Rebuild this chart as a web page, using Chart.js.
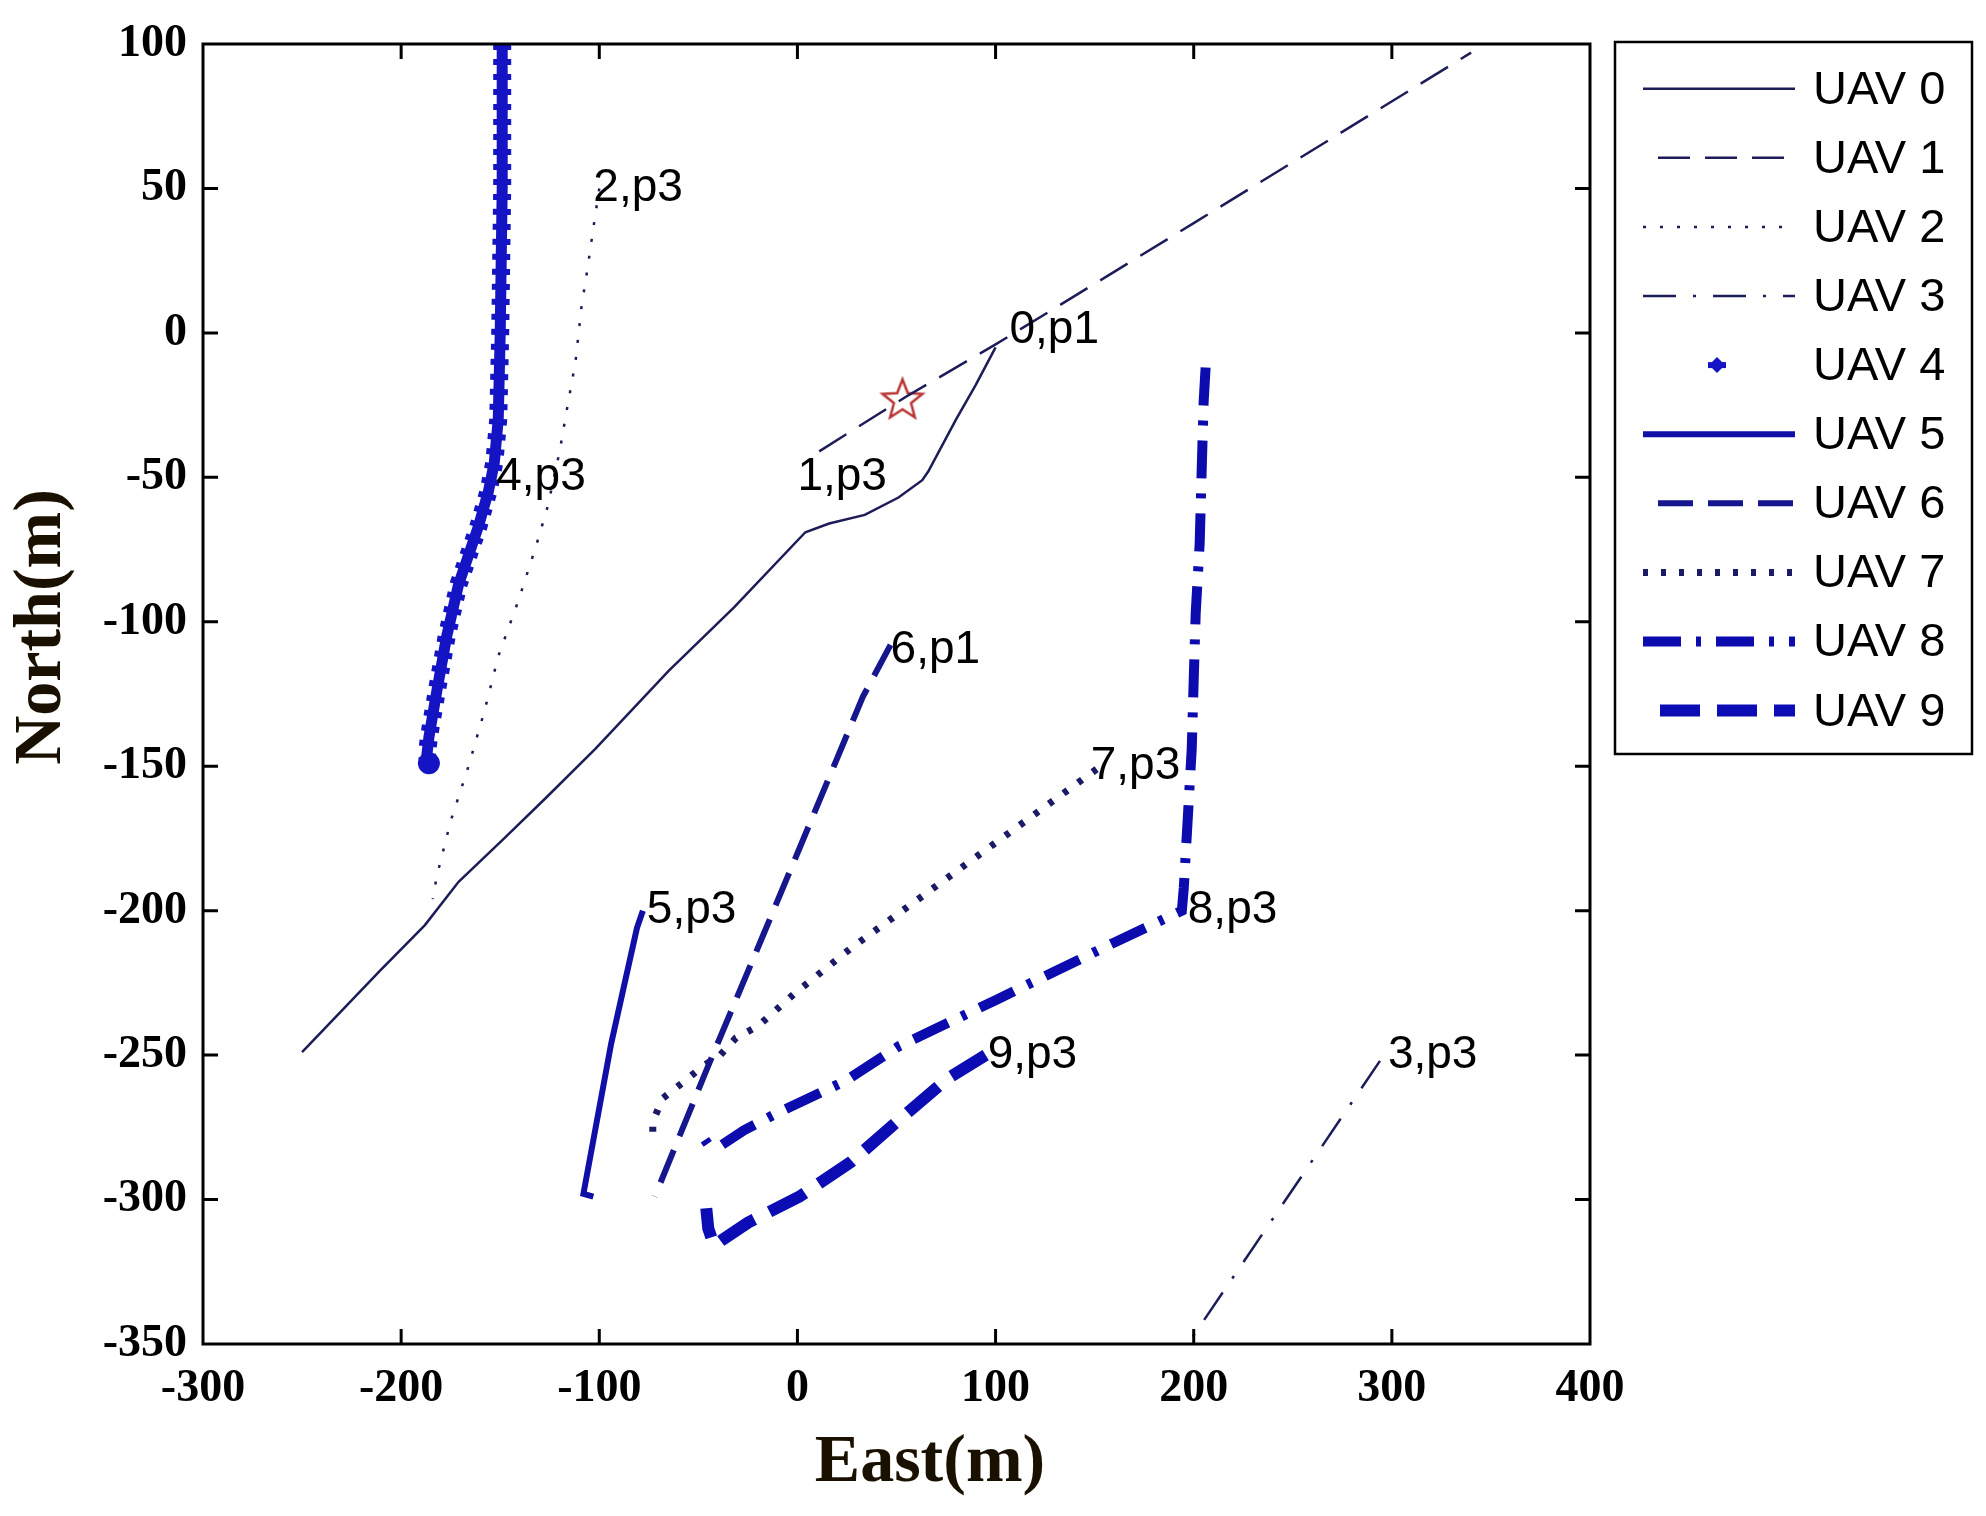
<!DOCTYPE html>
<html>
<head>
<meta charset="utf-8">
<script src="https://cdn.jsdelivr.net/npm/chart.js@4.4.1/dist/chart.umd.min.js"></script>
<style>
html,body{margin:0;padding:0;background:#ffffff;}
canvas{display:block;}
</style>
</head>
<body>
<canvas id="c" width="1986" height="1516"></canvas>
<script>
// ---------------- data (East, North in metres) ----------------
const xTicks = [-300, -200, -100, 0, 100, 200, 300, 400];
const yTicks = [-350, -300, -250, -200, -150, -100, -50, 0, 50, 100];
const seriesNames = ['UAV 0','UAV 1','UAV 2','UAV 3','UAV 4','UAV 5','UAV 6','UAV 7','UAV 8','UAV 9'];

const uav0 = [[-250,-249],[-211,-221],[-188,-205],[-171,-190],[-148,-175],[-127,-161],[-102,-144],
              [-65,-117],[-32,-95],[4,-69],[16,-66],[34,-63],[51,-57],[63,-51],[66,-48],[80,-30],[90,-18],[100,-5]];
const uav1 = [[11,-41],[55,-22],[100,-4],[200,38],[340,97]];
const uav2 = [[-100,50],[-102,41],[-106,22],[-109,9],[-112,-10],[-117,-29],[-120,-41],[-126,-60],[-132,-74],
              [-141,-93],[-151,-112],[-158,-131],[-166,-150],[-175,-169],[-182,-188],[-184,-196]];
const uav3 = [[294,-252],[197,-350]];
const uav4 = [[-149,100],[-149,50],[-150,0],[-151,-30],[-153,-45],[-156,-55],[-161,-67],[-171,-87],
              [-177,-105],[-182,-124],[-186,-140],[-187,-146],[-186,-149]];
const uav5 = [[-78,-200],[-81,-206],[-94,-246],[-108,-298],[-103,-299]];
const uav6 = [[47,-108],[33,-126],[-17,-208],[-44,-252],[-72,-299]];
const uav7 = [[151,-151],[27,-213],[-2,-229],[-20,-240],[-31,-244],[-39,-250],[-48,-254],[-57,-259],
              [-68,-265],[-73,-273],[-73,-277]];
const uav8 = [[206,-12],[205,-24],[204,-48],[203,-73],[201,-97],[200,-120],[199,-144],[197,-168],[195,-192],
              [194,-200],[160,-211],[100,-231],[51,-247],[24,-259],[-10,-270],[-27,-276],[-38,-281],[-45,-281],[-50,-276]];
const uav9 = [[95,-250],[76,-258],[52,-272],[27,-287],[1,-299],[-25,-308],[-38,-314],[-42,-316],[-45,-310],[-46,-303]];

const starPoint = [[53,-23]];

const tagText = ['0,p1','1,p3','2,p3','3,p3','4,p3','5,p3','6,p1','7,p3','8,p3','9,p3'];
const tagX    = [107, 0, -103, 298, -152, -76, 47, 148, 197, 96];
const tagY    = [1, -50, 50, -250, -50, -200, -110, -150, -200, -250];

// ---------------- helpers ----------------
const toXY = arr => arr.map(p => ({x: p[0], y: p[1]}));

function makeStar() {
  const c = document.createElement('canvas');
  c.width = 50; c.height = 50;
  const g = c.getContext('2d');
  g.strokeStyle = '#b83434';
  g.lineWidth = 2.5;
  g.beginPath();
  for (let i = 0; i < 10; i++) {
    const r = (i % 2) ? 9 : 21;
    const a = -Math.PI / 2 + i * Math.PI / 5;
    const x = 25 + r * Math.cos(a), y = 26 + r * Math.sin(a);
    if (i) g.lineTo(x, y); else g.moveTo(x, y);
  }
  g.closePath();
  g.stroke();
  return c;
}

const thin = '#1c1c58';
function lineDs(name, pts, color, width, dash, extra) {
  return Object.assign({
    label: name, data: toXY(pts), showLine: true, borderColor: color, backgroundColor: color,
    borderWidth: width, borderDash: dash, pointRadius: 0, pointHoverRadius: 0, tension: 0,
    fill: false, borderCapStyle: 'butt', borderJoinStyle: 'miter', legendRow: true
  }, extra || {});
}

const datasets = [
  lineDs(seriesNames[0], uav0, thin, 2.5, []),
  lineDs(seriesNames[1], uav1, thin, 2.5, [32, 15]),
  lineDs(seriesNames[2], uav2, thin, 2.5, [3, 14]),
  lineDs(seriesNames[3], uav3, thin, 2.5, [33, 17, 3, 17]),
  lineDs(seriesNames[4], uav4, '#1414c4', 11, [], {
    isMarker: true,
    pointRadius: c => (c.dataIndex === uav4.length - 1 ? 11 : 0),
    pointBackgroundColor: '#1414c4', pointBorderWidth: 0
  }),
  lineDs(seriesNames[5], uav5, '#1010a8', 6, []),
  lineDs(seriesNames[6], uav6, '#16168e', 6, [35, 15]),
  lineDs(seriesNames[7], uav7, '#1a1a66', 7, [5, 13]),
  lineDs(seriesNames[8], uav8, '#0c0cae', 10, [38, 15, 5, 15]),
  lineDs(seriesNames[9], uav9, '#0c0cb4', 12, [40, 17]),
  // marker texture overlay for UAV 4 (same data)
  lineDs('UAV 4 markers', uav4, '#1414c4', 18, [6, 9], {legendRow: false}),
  // target star
  {label: 'target', data: toXY(starPoint), showLine: false, pointStyle: makeStar(), pointRadius: 10,
   pointHoverRadius: 10, legendRow: false}
];

// ---------------- plugin: frame, ticks, tags, titles, legend ----------------
const decor = {
  id: 'decor',
  afterDatasetsDraw(chart) {
    const ctx = chart.ctx, a = chart.chartArea;
    const xs = chart.scales.x, ys = chart.scales.y;
    ctx.save();
    // tags
    ctx.fillStyle = '#000';
    ctx.font = "46px 'Liberation Sans', Arial, sans-serif";
    ctx.textAlign = 'left';
    ctx.textBaseline = 'middle';
    for (let i = 0; i < tagText.length; i++) {
      ctx.fillText(tagText[i], xs.getPixelForValue(tagX[i]), ys.getPixelForValue(tagY[i]));
    }
    // box
    ctx.strokeStyle = '#000';
    ctx.lineWidth = 3;
    ctx.setLineDash([]);
    ctx.strokeRect(a.left, a.top, a.right - a.left, a.bottom - a.top);
    // inward ticks on all sides
    const tl = 15;
    ctx.beginPath();
    xTicks.forEach(v => {
      const px = xs.getPixelForValue(v);
      if (v === xTicks[0] || v === xTicks[xTicks.length - 1]) return;
      ctx.moveTo(px, a.bottom); ctx.lineTo(px, a.bottom - tl);
      ctx.moveTo(px, a.top); ctx.lineTo(px, a.top + tl);
    });
    yTicks.forEach(v => {
      const py = ys.getPixelForValue(v);
      if (v === yTicks[0] || v === yTicks[yTicks.length - 1]) return;
      ctx.moveTo(a.left, py); ctx.lineTo(a.left + tl, py);
      ctx.moveTo(a.right, py); ctx.lineTo(a.right - tl, py);
    });
    ctx.stroke();
    // axis titles
    ctx.fillStyle = '#1a1000';
    ctx.font = "bold 68px 'Liberation Serif', 'Times New Roman', serif";
    ctx.textAlign = 'center';
    ctx.textBaseline = 'middle';
    ctx.fillText('East(m)', 930, 1463);
    ctx.save();
    ctx.translate(42, 627);
    ctx.rotate(-Math.PI / 2);
    ctx.fillText('North(m)', 0, 0);
    ctx.restore();
    // legend
    const L = {left: 1615, top: 42, right: 1972, bottom: 754, row0: 88.7, step: 69.1, x0: 1643, x1: 1795, tx: 1813};
    ctx.fillStyle = '#fff';
    ctx.fillRect(L.left, L.top, L.right - L.left, L.bottom - L.top);
    ctx.strokeStyle = '#000';
    ctx.lineWidth = 2.5;
    ctx.strokeRect(L.left, L.top, L.right - L.left, L.bottom - L.top);
    let row = 0;
    chart.data.datasets.forEach(ds => {
      if (!ds.legendRow) return;
      const y = L.row0 + row * L.step;
      if (ds.isMarker) {
        const cx = (L.x0 + L.x1) / 2 - 2;
        ctx.fillStyle = ds.borderColor;
        ctx.beginPath();
        ctx.moveTo(cx, y - 8); ctx.lineTo(cx + 8, y); ctx.lineTo(cx, y + 8); ctx.lineTo(cx - 8, y);
        ctx.closePath(); ctx.fill();
        ctx.fillRect(cx - 9, y - 3, 18, 6);
      } else {
        ctx.strokeStyle = ds.borderColor;
        ctx.lineWidth = ds.borderWidth;
        ctx.lineCap = 'butt';
        const d = ds.borderDash || [];
        ctx.setLineDash(d);
        ctx.lineDashOffset = (d.length === 2 && d[0] > 20) ? d[0] : 0;
        ctx.beginPath();
        ctx.moveTo(L.x0, y); ctx.lineTo(L.x1, y);
        ctx.stroke();
        ctx.setLineDash([]);
        ctx.lineDashOffset = 0;
      }
      ctx.fillStyle = '#000';
      ctx.font = "47px 'Liberation Sans', Arial, sans-serif";
      ctx.textAlign = 'left';
      ctx.textBaseline = 'middle';
      ctx.fillText(ds.label, L.tx, y + 2);
      row++;
    });
    ctx.restore();
  }
};

const tickFont = {family: "'Liberation Serif', 'Times New Roman', serif", size: 46, weight: 'bold'};

new Chart(document.getElementById('c'), {
  type: 'scatter',
  data: {datasets},
  options: {
    responsive: false,
    animation: false,
    devicePixelRatio: 1,
    layout: {padding: {top: 44, right: 396, left: 0, bottom: 0}},
    plugins: {legend: {display: false}, tooltip: {enabled: false}, title: {display: false}},
    scales: {
      x: {
        type: 'linear', min: -300, max: 400,
        afterBuildTicks: s => { s.ticks = xTicks.map(v => ({value: v})); },
        afterFit: s => { s.height = 172; },
        grid: {display: false, drawTicks: false},
        border: {display: false},
        ticks: {font: tickFont, color: '#000', padding: 18, maxRotation: 0, autoSkip: false}
      },
      y: {
        type: 'linear', min: -350, max: 100,
        afterBuildTicks: s => { s.ticks = yTicks.map(v => ({value: v})); },
        afterFit: s => { s.width = 203; },
        grid: {display: false, drawTicks: false},
        border: {display: false},
        ticks: {font: tickFont, color: '#000', padding: 16, autoSkip: false}
      }
    }
  },
  plugins: [decor]
});
</script>
</body>
</html>
